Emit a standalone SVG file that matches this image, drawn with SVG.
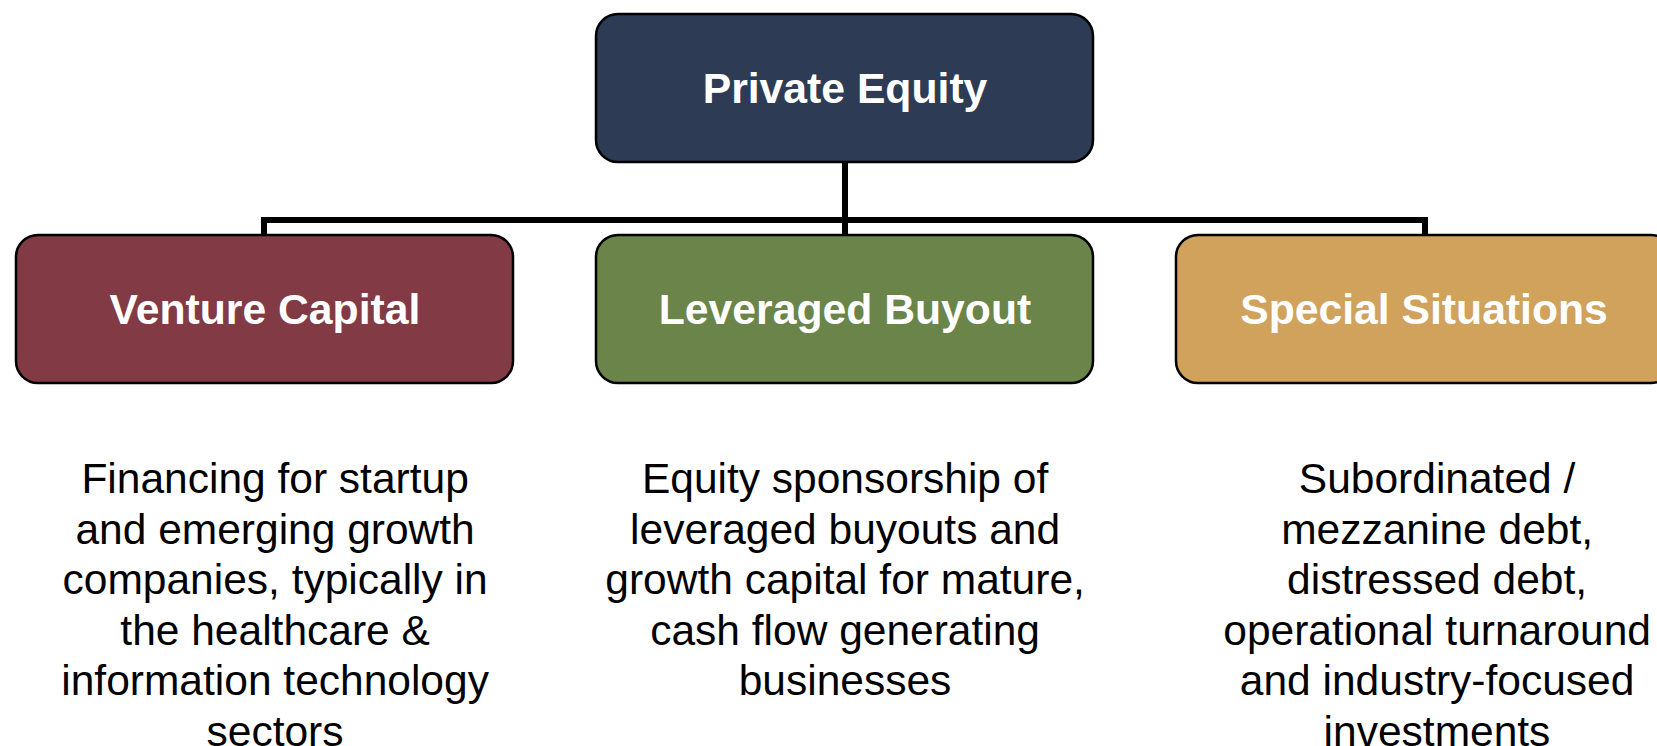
<svg xmlns="http://www.w3.org/2000/svg" width="1657" height="746" viewBox="0 0 1657 746">
  <style>
    .box { stroke: #000; stroke-width: 2.5; }
    .title { font-family: "Liberation Sans", Arial, sans-serif; font-weight: bold; font-size: 42.7px; fill: #fff; text-anchor: middle; }
    .desc { font-family: "Liberation Sans", Arial, sans-serif; font-size: 42.5px; fill: #000; text-anchor: middle; }
    .conn { stroke: #000; stroke-width: 6; fill: none; stroke-linejoin: miter; stroke-linecap: butt; }
  </style>
  <rect width="1657" height="746" fill="#fff"/>

  <!-- connectors -->
  <g id="connectors">
    <path class="conn" d="M845,162 V220"/>
    <path class="conn" d="M264,235 V220 H1425 V235"/>
    <path class="conn" d="M845,220 V235"/>
  </g>

  <g id="private-equity">
    <rect class="box" x="596" y="14" width="497" height="148" rx="22" fill="#2E3B55"/>
    <text class="title" x="845" y="103">Private Equity</text>
  </g>

  <g id="venture-capital">
    <rect class="box" x="16" y="235" width="497" height="148" rx="22" fill="#823A44"/>
    <text class="title" x="265" y="324">Venture Capital</text>
    <!-- wrapped lines sit slightly right of the final line -->
    <text class="desc" x="281" y="493">
      <tspan x="281">Financing for startup</tspan>
      <tspan x="281" dy="50.5">and emerging growth</tspan>
      <tspan x="281" dy="50.5">companies, typically in</tspan>
      <tspan x="281" dy="50.5">the healthcare &amp;</tspan>
      <tspan x="281" dy="50.5">information technology</tspan>
      <tspan x="275" dy="50.5">sectors</tspan>
    </text>
  </g>

  <g id="leveraged-buyout">
    <rect class="box" x="596" y="235" width="497" height="148" rx="22" fill="#6A8449"/>
    <text class="title" x="845" y="324">Leveraged Buyout</text>
    <text class="desc" x="851" y="493">
      <tspan x="851">Equity sponsorship of</tspan>
      <tspan x="851" dy="50.5">leveraged buyouts and</tspan>
      <tspan x="851" dy="50.5">growth capital for mature,</tspan>
      <tspan x="851" dy="50.5">cash flow generating</tspan>
      <tspan x="845" dy="50.5">businesses</tspan>
    </text>
  </g>

  <g id="special-situations">
    <rect class="box" x="1176" y="235" width="497" height="148" rx="22" fill="#D0A25C"/>
    <text class="title" x="1424" y="324">Special Situations</text>
    <text class="desc" x="1443" y="493">
      <tspan x="1443">Subordinated /</tspan>
      <tspan x="1443" dy="50.5">mezzanine debt,</tspan>
      <tspan x="1443" dy="50.5">distressed debt,</tspan>
      <tspan x="1443" dy="50.5">operational turnaround</tspan>
      <tspan x="1443" dy="50.5">and industry-focused</tspan>
      <tspan x="1437" dy="50.5">investments</tspan>
    </text>
  </g>
</svg>
